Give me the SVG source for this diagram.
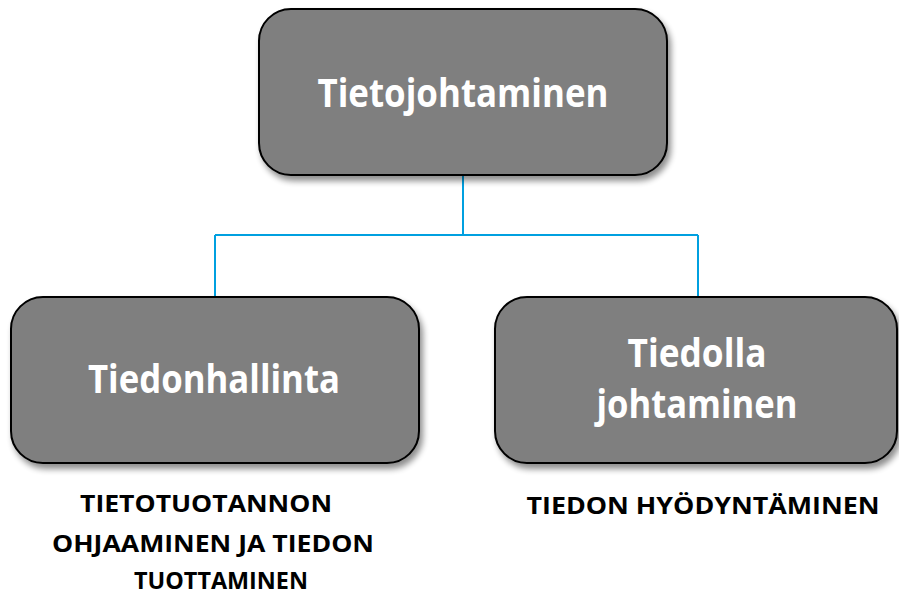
<svg xmlns="http://www.w3.org/2000/svg" width="899" height="596" viewBox="0 0 899 596">
<defs>
<filter id="sh" x="-10%" y="-10%" width="125%" height="130%">
<feGaussianBlur in="SourceAlpha" stdDeviation="3"/>
<feOffset dx="3" dy="5" result="b"/>
<feComponentTransfer><feFuncA type="linear" slope="0.45"/></feComponentTransfer>
<feMerge><feMergeNode/><feMergeNode in="SourceGraphic"/></feMerge>
</filter>
</defs>
<style>
.box{fill:#7f7f7f;stroke:#000;stroke-width:2}
.t{font-family:"Open Sans","Liberation Sans",sans-serif;font-weight:bold;fill:#fff;text-anchor:middle;font-size:39px}
.c{font-family:"Open Sans","Liberation Sans",sans-serif;font-weight:bold;fill:#000;text-anchor:middle;font-size:24px}
.ln{fill:none;stroke:#00a0e0;stroke-width:2}
</style>
<g id="connectors">
<path class="ln" d="M463 175 V235 M215 235 H698 M215 235 V296 M698 235 V296"/>
</g>
<g id="top">
<rect class="box" x="259" y="9" width="408" height="166" rx="32" filter="url(#sh)"/>
<text class="t" x="463" y="107" textLength="291" lengthAdjust="spacingAndGlyphs">Tietojohtaminen</text>
</g>
<g id="left">
<rect class="box" x="11" y="297" width="408" height="166" rx="32" filter="url(#sh)"/>
<text class="t" x="214" y="393" textLength="252" lengthAdjust="spacingAndGlyphs">Tiedonhallinta</text>
</g>
<g id="right">
<rect class="box" x="495" y="297" width="402" height="166" rx="32" filter="url(#sh)"/>
<text class="t" x="697" y="367" textLength="139" lengthAdjust="spacingAndGlyphs">Tiedolla</text>
<text class="t" x="697" y="418" textLength="201" lengthAdjust="spacingAndGlyphs">johtaminen</text>
</g>
<g id="caption-left">
<text class="c" x="206" y="512" textLength="252" lengthAdjust="spacingAndGlyphs">TIETOTUOTANNON</text>
<text class="c" x="213" y="552" textLength="322" lengthAdjust="spacingAndGlyphs">OHJAAMINEN JA TIEDON</text>
<text class="c" x="221" y="589" textLength="174" lengthAdjust="spacingAndGlyphs">TUOTTAMINEN</text>
</g>
<g id="caption-right">
<text class="c" x="703" y="514" textLength="353" lengthAdjust="spacingAndGlyphs">TIEDON HYÖDYNTÄMINEN</text>
</g>
</svg>
